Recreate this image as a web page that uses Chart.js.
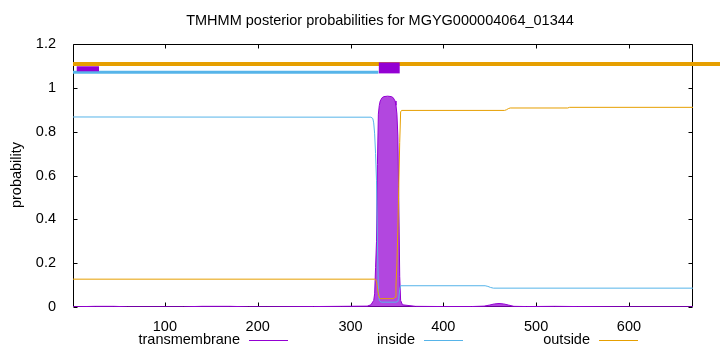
<!DOCTYPE html>
<html>
<head>
<meta charset="utf-8">
<script src="https://cdn.jsdelivr.net/npm/chart.js@4"></script>
<style>html,body{margin:0;padding:0;background:#fff;}canvas{display:block;}</style>
</head>
<body>
<canvas id="c" width="720" height="352"></canvas>
<script>
// ---- data ----
const titleText = 'TMHMM posterior probabilities for MGYG000004064_01344';
const seriesNames = ['transmembrane', 'inside', 'outside'];
const xTicks = [100, 200, 300, 400, 500, 600];
const yTicks = [0, 0.2, 0.4, 0.6, 0.8, 1, 1.2];
const yTickLabels = ['0', '0.2', '0.4', '0.6', '0.8', '1', '1.2'];
const seqStart = 1;
const seqEnd = 669;

const tmX = [1, 25, 45, 60, 120, 140, 170, 190, 210, 260, 290, 318, 322, 325, 326, 327, 328, 329, 330, 331, 332, 334, 336, 340, 344, 346, 348, 349, 350, 351, 352, 353, 354, 356, 370, 400, 430, 444, 450, 455, 460, 465, 470, 476, 490, 520, 545, 600, 669];
const tmY = [0.001, 0.003, 0.003, 0.001, 0.001, 0.003, 0.003, 0.001, 0.001, 0.002, 0.003, 0.004, 0.01, 0.03, 0.06, 0.18, 0.3, 0.65, 0.88, 0.92, 0.94, 0.955, 0.96, 0.962, 0.96, 0.955, 0.94, 0.92, 0.88, 0.78, 0.5, 0.14, 0.03, 0.01, 0.003, 0.002, 0.002, 0.004, 0.009, 0.014, 0.016, 0.014, 0.009, 0.003, 0.002, 0.003, 0.002, 0.001, 0.001];

const inX = [1, 322, 324, 325, 326, 327, 328, 329, 330, 331, 333, 349, 351, 352, 353, 354, 445, 448, 451, 454, 669];
const inY = [0.867, 0.866, 0.86, 0.84, 0.79, 0.7, 0.576, 0.3, 0.08, 0.03, 0.022, 0.022, 0.025, 0.04, 0.08, 0.097, 0.097, 0.094, 0.089, 0.086, 0.086];

const outX = [1, 326, 327, 328, 329, 330, 331, 332, 346, 347, 348, 349, 350, 351, 352, 353, 354, 355, 466, 468, 470, 472, 534, 536, 669];
const outY = [0.127, 0.127, 0.125, 0.115, 0.09, 0.06, 0.045, 0.038, 0.038, 0.04, 0.045, 0.1, 0.2, 0.35, 0.55, 0.75, 0.89, 0.897, 0.897, 0.9, 0.905, 0.908, 0.908, 0.911, 0.911];

// predicted topology bars at the top
const outsideBarX = [1, 700];
const outsideBarY = [1.109, 1.109];
const insideBarX = [1, 330];
const insideBarY = [1.071, 1.071];
const tmBar1X = [5, 29];
const tmBar1Y = [1.087, 1.087];
const tmBar2X = [330.5, 353];
const tmBar2Y = [1.091, 1.091];

// ---- helpers ----
const pts = (xs, ys) => xs.map((x, i) => ({x: x, y: ys[i]}));
const PURPLE = '#9400d3', BLUE = '#56b4e9', ORANGE = '#e69f00';
const FONT = 'Liberation Sans, Arial, sans-serif';
const FS = 14.5;

const frame = {
  id: 'frame',
  beforeDatasetsDraw(chart) {
    const {ctx, chartArea: a, scales: {x, y}} = chart;
    ctx.save();
    ctx.strokeStyle = '#000';
    ctx.lineWidth = 1;
    const L = Math.round(a.left) + 0.5, R = Math.round(a.right) - 0.5;
    const T = Math.round(a.top) + 0.5, B = Math.round(a.bottom) - 0.5;
    ctx.beginPath();
    ctx.rect(L, T, R - L, B - T);
    const tl = 4;
    xTicks.forEach(v => {
      const px = Math.round(x.getPixelForValue(v)) + 0.5;
      ctx.moveTo(px, B); ctx.lineTo(px, B - tl);
      ctx.moveTo(px, T); ctx.lineTo(px, T + tl);
    });
    yTicks.forEach(v => {
      const py = Math.round(y.getPixelForValue(v)) + 0.5;
      ctx.moveTo(L, py); ctx.lineTo(L + tl, py);
      ctx.moveTo(R, py); ctx.lineTo(R - tl, py);
    });
    ctx.stroke();
    ctx.restore();
  },
  afterDraw(chart) {
    const {ctx} = chart;
    ctx.save();
    ctx.fillStyle = '#000';
    ctx.font = FS + 'px ' + FONT;
    ctx.textBaseline = 'middle';
    ctx.textAlign = 'center';
    ctx.fillText(titleText, 380, 21);
    // y label
    ctx.save();
    ctx.translate(17, 175);
    ctx.rotate(-Math.PI / 2);
    ctx.fillText('probability', 0, 0);
    ctx.restore();
    // legend
    const colors = [PURPLE, BLUE, ORANGE];
    const textRight = [240, 415, 590];
    ctx.textAlign = 'right';
    seriesNames.forEach((n, i) => {
      ctx.fillStyle = '#000';
      ctx.fillText(n, textRight[i], 340);
      ctx.strokeStyle = colors[i];
      ctx.lineWidth = 1;
      ctx.beginPath();
      ctx.moveTo(textRight[i] + 9, 340.5);
      ctx.lineTo(textRight[i] + 48, 340.5);
      ctx.stroke();
    });
    ctx.restore();
  }
};

const thin = (label, data, color, order) => ({
  label, data, borderColor: color, borderWidth: 1, pointRadius: 0, tension: 0, fill: false, order
});
const bar = (label, data, color, width, order, clip) => ({
  label, data, borderColor: color, borderWidth: width, borderCapStyle: 'butt',
  pointRadius: 0, tension: 0, fill: false, order, clip: clip
});

new Chart(document.getElementById('c'), {
  type: 'line',
  data: {
    datasets: [
      {
        label: seriesNames[0], data: pts(tmX, tmY), borderColor: PURPLE, borderWidth: 1,
        backgroundColor: 'rgba(148,0,211,0.72)', fill: 'origin', pointRadius: 0, tension: 0, order: 10
      },
      thin(seriesNames[1], pts(inX, inY), BLUE, 9),
      thin(seriesNames[2], pts(outX, outY), ORANGE, 8),
      bar('outside bar', pts(outsideBarX, outsideBarY), ORANGE, 4, 7, false),
      bar('inside bar', pts(insideBarX, insideBarY), BLUE, 3, 6),
      bar('tm bar 1', pts(tmBar1X, tmBar1Y), PURPLE, 5, 5),
      bar('tm bar 2', pts(tmBar2X, tmBar2Y), PURPLE, 11, 4)
    ]
  },
  options: {
    responsive: false,
    animation: false,
    devicePixelRatio: 1,
    layout: {padding: {left: 0, right: 27, top: 44, bottom: 0}},
    plugins: {legend: {display: false}, tooltip: {enabled: false}, title: {display: false}},
    scales: {
      x: {
        type: 'linear', min: seqStart, max: seqEnd,
        grid: {display: false}, border: {display: false},
        afterBuildTicks: s => { s.ticks = xTicks.map(v => ({value: v})); },
        afterFit: s => { s.height = 45; },
        ticks: {color: '#000', font: {family: FONT, size: FS}, padding: 3, maxRotation: 0, autoSkip: false}
      },
      y: {
        type: 'linear', min: 0, max: 1.2,
        grid: {display: false}, border: {display: false},
        afterBuildTicks: s => { s.ticks = yTicks.map(v => ({value: v})); },
        afterFit: s => { s.width = 73; },
        ticks: {
          color: '#000', font: {family: FONT, size: FS}, padding: 9, autoSkip: false,
          callback: (v) => { const i = yTicks.indexOf(v); return i >= 0 ? yTickLabels[i] : ''; }
        }
      }
    }
  },
  plugins: [frame]
});
</script>
</body>
</html>
